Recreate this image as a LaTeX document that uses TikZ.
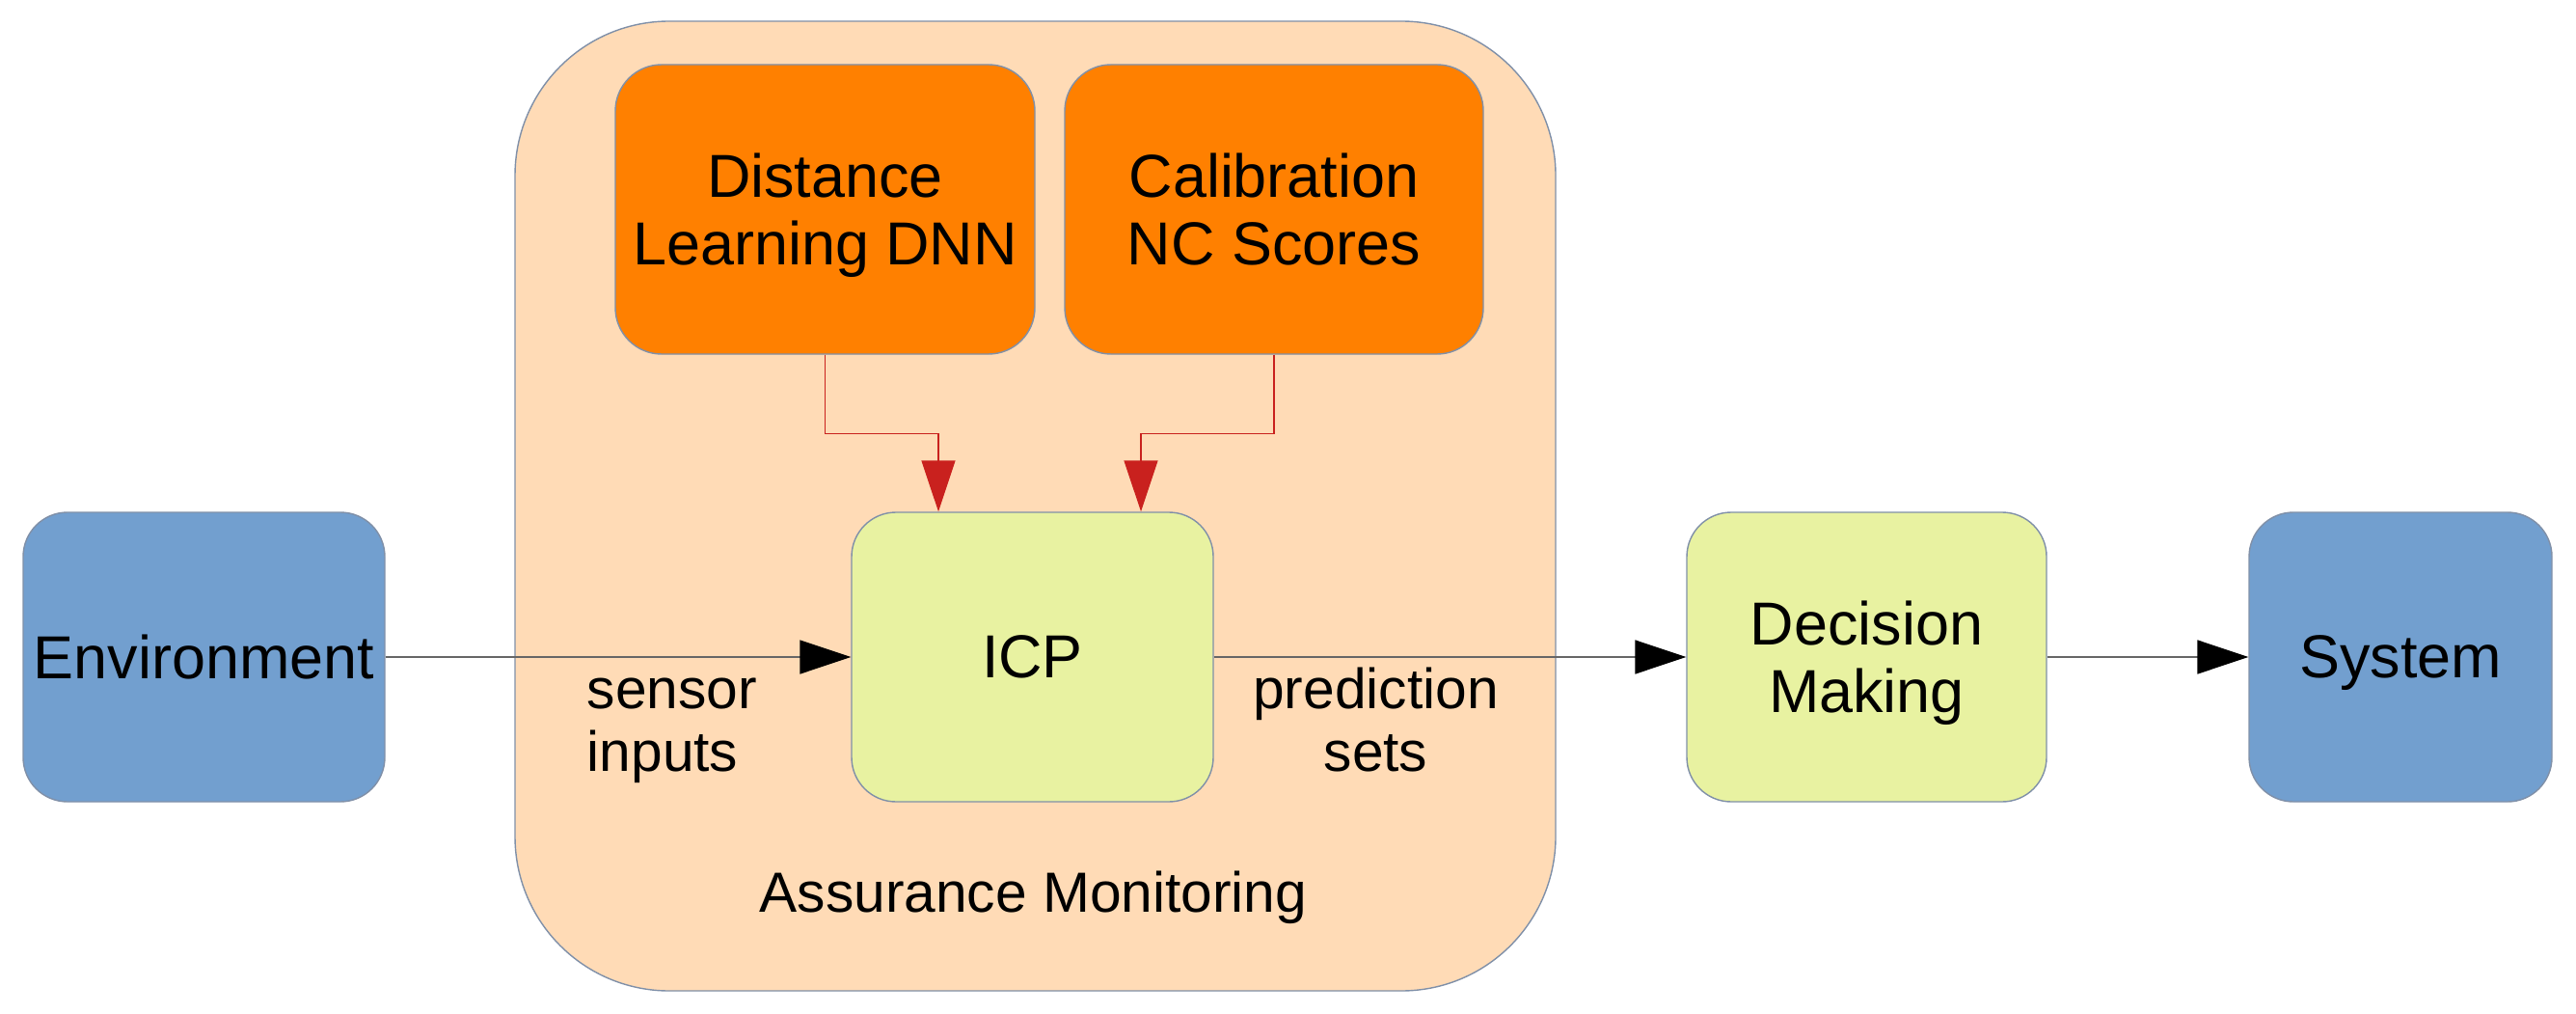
\documentclass[tikz,border=0pt]{standalone}
\usepackage{fontspec}
\setmainfont{Liberation Sans}
\usetikzlibrary{positioning, calc, arrows.meta}

\definecolor{monfill}{HTML}{FFDBB6}
\definecolor{dnnorange}{HTML}{FF8000}
\definecolor{icplime}{HTML}{E8F2A1}
\definecolor{envblue}{HTML}{729FCF}
\definecolor{boxline}{HTML}{8090A8}
\definecolor{arrowred}{HTML}{C9211E}

\tikzset{
  block/.style={draw=boxline, line width=0.4pt, rounded corners=0.46cm, minimum height=3cm,
    inner sep=0pt, align=center, font=\fontsize{17.9}{19.9}\selectfont, text depth=0pt},
  flow/.style={draw=black!60, line width=0.5pt, -{Triangle[length=0.53cm,width=0.35cm,black]}},
  feed/.style={draw=arrowred, line width=0.4pt, -{Triangle[length=0.53cm,width=0.35cm]}},
  lbl/.style={font=\fontsize{16.7}{18.5}\selectfont, inner sep=0pt}
}

\begin{document}
\begin{tikzpicture}
    \useasboundingbox (0,0) rectangle (26.71,10.50);
    % monitor frame
    \node[block, fill=monfill, rounded corners=1.6cm, minimum width=10.79cm, minimum height=10.05cm] (mon) at (10.735,5.255) {};
    \node[lbl, anchor=base] (assur) at (10.715,1.05) {Assurance Monitoring};
    % blocks
    \node[block, fill=envblue, minimum width=3.75cm] (env) at (2.115,3.69) {Environment};
    \node[block, fill=icplime, minimum width=3.75cm] (icp) at (10.705,3.69) {ICP};
    \node[block, fill=icplime, minimum width=3.73cm] (dec) at (19.355,3.69) {Decision\\Making};
    \node[block, fill=envblue, minimum width=3.14cm] (sys) at (24.89,3.69) {System};
    \node[block, fill=dnnorange, rounded corners=0.48cm, minimum width=4.35cm] (dnn) at (8.555,8.33) {Distance\\Learning DNN};
    \node[block, fill=dnnorange, rounded corners=0.48cm, minimum width=4.34cm] (cal) at (13.21,8.33) {Calibration\\NC Scores};
    % edge labels
    \node[lbl, align=left, anchor=base west] (sens) at (6.08,2.505) {sensor\\inputs};
    \node[lbl, align=center, anchor=base] (pred) at (14.265,2.505) {prediction\\sets};
    % connectors
    \draw[flow] (env) -- (icp);
    \draw[flow] (icp) -- (dec);
    \draw[flow] (dec) -- (sys);
    \draw[feed] (dnn.south) -- ++(0,-0.82) -| ([xshift=-0.975cm]icp.north);
    \draw[feed] (cal.south) -- ++(0,-0.82) -| ([xshift=1.125cm]icp.north);
\end{tikzpicture}
\end{document}
